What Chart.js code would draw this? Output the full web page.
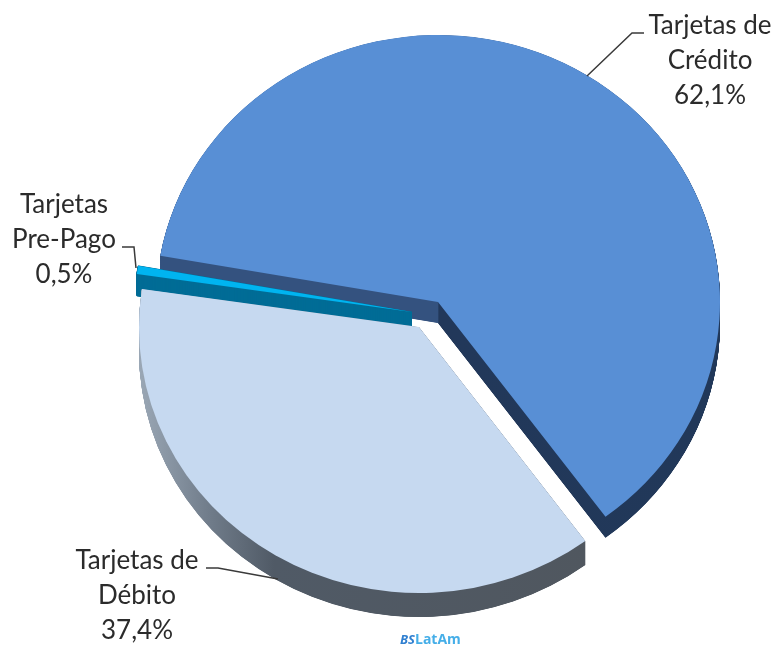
<!DOCTYPE html>
<html>
<head>
<meta charset="utf-8">
<style>html,body{margin:0;padding:0;background:#fff}canvas{display:block;filter:blur(0.45px)}</style>
<script src="https://cdn.jsdelivr.net/npm/chart.js@4"></script>
</head>
<body>
<canvas id="c" width="777" height="648"></canvas>
<script>
const categories = ["Tarjetas de Crédito", "Tarjetas de Débito", "Tarjetas Pre-Pago"];
const shares = [62.1, 37.4, 0.5];
const labelLines = [["Tarjetas de", "Crédito", "62,1%"], ["Tarjetas de", "Débito", "37,4%"], ["Tarjetas", "Pre-Pago", "0,5%"]];
const topColors = ["#588fd5", "#c6d9f0", "#00b4f0"];
const labelCenters = [[710, 26], [137, 561], [64, 205]];
const leaders = [[[587, 76], [632, 33], [644, 33]], [[206, 568], [218, 568], [278, 579]], [[122, 247], [134, 247], [136, 268]]];
// placement of each exploded slice: x, y, radiusX, radiusY, depth, side edge width
const placement = [[438, 302, 282, 267, 21, 0], [419, 327, 280, 266, 24, 0], [412, 312, 278, 267, 22, 1]];
const drawOrder = [0, 2, 1];

function arcOpts(c, w) {
  return {backgroundColor: c, borderColor: c, borderWidth: w, borderAlign: 'center', offset: 0, spacing: 0,
          borderRadius: 0, circular: true, borderJoinStyle: 'round', borderDash: [], borderDashOffset: 0};
}
function sideFill(ctx, i, arc, p) {
  const local = x => arc.x + (x - p[0]) * arc.outerRadius / p[2];
  let g;
  if (i === 0) {
    g = ctx.createLinearGradient(local(161), 0, local(719), 0);
    g.addColorStop(0, '#34527f'); g.addColorStop(0.496, '#34527f');
    g.addColorStop(0.498, '#22385a'); g.addColorStop(1, '#213859');
    return g;
  }
  if (i === 1) {
    g = ctx.createLinearGradient(local(140), 0, local(587), 0);
    g.addColorStop(0, '#9aa7b5'); g.addColorStop(0.16, '#6f7b89'); g.addColorStop(0.3, '#505a66'); g.addColorStop(1, '#50575f');
    return g;
  }
  return '#006d96';
}
const sliceDrawer = {
  id: 'sliceDrawer',
  beforeDatasetsDraw(chart) {
    const ctx = chart.ctx, arcs = chart.getDatasetMeta(0).data;
    const paint = (arc, p, dy, fill, w) => {
      const saved = arc.options;
      arc.options = arcOpts(fill, w);
      ctx.save();
      ctx.translate(p[0], p[1] + dy);
      ctx.scale(p[2] / arc.outerRadius, p[3] / arc.outerRadius);
      ctx.translate(-arc.x, -arc.y);
      arc.draw(ctx);
      ctx.restore();
      arc.options = saved;
    };
    drawOrder.forEach(i => {
      const p = placement[i], fill = sideFill(ctx, i, arcs[i], p);
      for (let d = p[4]; d > 0; d -= 0.25) paint(arcs[i], p, d, fill, p[5]);
      paint(arcs[i], p, 0, topColors[i], 0);
    });
  },
  beforeDatasetDraw() { return false; },
  afterDatasetsDraw(chart) {
    const ctx = chart.ctx;
    ctx.save();
    ctx.strokeStyle = '#3a3a3a'; ctx.lineWidth = 1.5;
    leaders.forEach(l => {
      ctx.beginPath();
      l.forEach((pt, k) => k ? ctx.lineTo(pt[0], pt[1]) : ctx.moveTo(pt[0], pt[1]));
      ctx.stroke();
    });
    ctx.fillStyle = '#2b2b2b'; ctx.textAlign = 'center'; ctx.textBaseline = 'middle';
    ctx.font = '26px Lato';
    labelLines.forEach((lines, i) => lines.forEach((t, k) => {
      ctx.fillText(t, labelCenters[i][0], labelCenters[i][1] + k * 35);
    }));
    ctx.textAlign = 'left';
    ctx.font = 'italic bold 13px "Open Sans"'; ctx.fillStyle = '#2f7fd0';
    ctx.fillText('BS', 400, 640);
    ctx.font = 'bold 14px "Open Sans"'; ctx.fillStyle = '#45aee8';
    ctx.fillText('LatAm', 415, 640);
    ctx.restore();
  }
};
new Chart(document.getElementById('c'), {
  type: 'pie',
  data: {labels: categories, datasets: [{data: shares, backgroundColor: topColors, borderWidth: 0}]},
  options: {
    responsive: false, animation: false, rotation: 280,
    plugins: {legend: {display: false}, tooltip: {enabled: false}}
  },
  plugins: [sliceDrawer]
});
</script>
</body>
</html>
